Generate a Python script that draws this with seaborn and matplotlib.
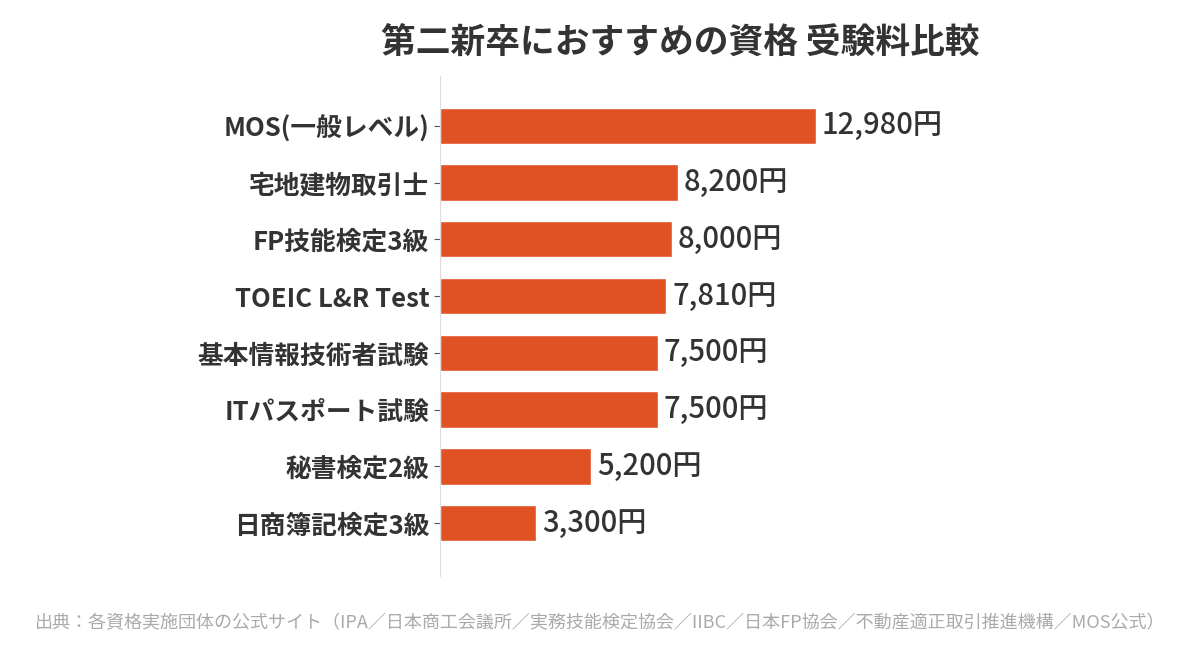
import matplotlib
matplotlib.use("Agg")
import matplotlib.pyplot as plt
import pandas as pd
import seaborn as sns

title = "第二新卒におすすめの資格 受験料比較"
source = "出典：各資格実施団体の公式サイト（IPA／日本商工会議所／実務技能検定協会／IIBC／日本FP協会／不動産適正取引推進機構／MOS公式）"

exams = ["MOS(一般レベル)", "宅地建物取引士", "FP技能検定3級", "TOEIC L&R Test",
         "基本情報技術者試験", "ITパスポート試験", "秘書検定2級", "日商簿記検定3級"]
fees = [12980, 8200, 8000, 7810, 7500, 7500, 5200, 3300]

bar_color = "#E05223"
text_color = "#333333"

sns.set_theme(style="white")
plt.rcParams['font.family'] = ['Noto Sans CJK JP', 'DejaVu Sans']

df = pd.DataFrame({"exam": exams, "fee": fees})

fig = plt.figure(figsize=(12, 6.59), dpi=100)
ax = fig.add_axes([0.367, 0.126, 0.55, 0.759])

sns.barplot(data=df, x="fee", y="exam", color=bar_color, width=0.64,
            saturation=1, ax=ax)

ax.set_xlim(0, 22800)
ax.set_ylim(7.93, -0.88)
ax.set_xlabel("")
ax.set_ylabel("")
ax.set_xticks([])

for lbl in ax.get_yticklabels():
    lbl.set_fontsize(18.5)
    lbl.set_fontweight("bold")
    lbl.set_color(text_color)
ax.tick_params(axis="y", length=4, width=0.8, color="#555555", pad=4, left=True)

for s in ["top", "right", "bottom"]:
    ax.spines[s].set_visible(False)
ax.spines["left"].set_color("#dddddd")
ax.spines["left"].set_linewidth(0.8)

for i, v in enumerate(fees):
    ax.text(v + 200, i, f"{v:,}円", va="center", ha="left",
            fontsize=21, color=text_color, fontweight="medium", clip_on=False)

fig.text(0.567, 0.935, title, ha="center", va="center", fontsize=25,
         fontweight="bold", color=text_color)
fig.text(0.5, 0.055, source, ha="center", va="center", fontsize=13,
         color="#aaaaaa")

fig.savefig("out.png", dpi=100, facecolor="white")
